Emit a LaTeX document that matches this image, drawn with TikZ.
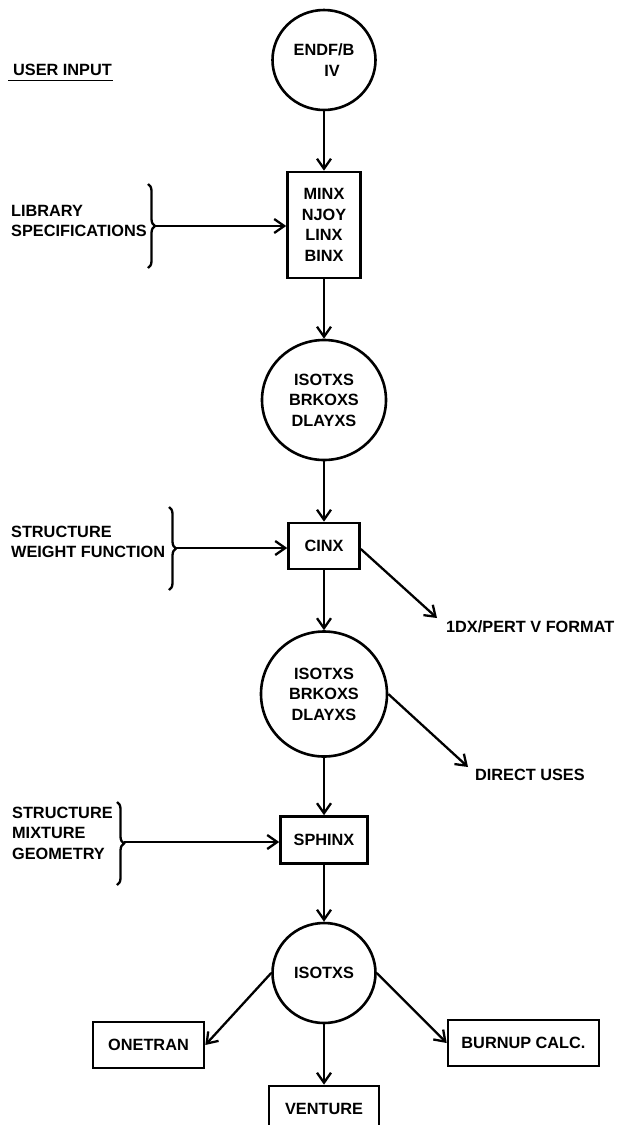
\documentclass[tikz,border=0pt]{standalone}
\usepackage{fontspec}
\setmainfont{Liberation Sans}
\usetikzlibrary{arrows.meta,shapes.geometric,decorations.pathreplacing}
\begin{document}
\begin{tikzpicture}[x=1pt,y=-1pt,line width=2.3pt,
  every node/.style={font=\bfseries\fontsize{16.3}{20.5}\selectfont,inner sep=0pt},
  box/.style={draw,rectangle,align=center,line width=2.6pt},
  disc/.style={draw,ellipse,align=center,line width=2.6pt},
  arr/.style={-{Straight Barb[length=10pt,width=14pt,line width=2.3pt]}},
  brc/.style={decorate,decoration={brace,amplitude=7pt}},
  lbl/.style={anchor=west,align=left}]
\useasboundingbox (0,0) rectangle (620,1125);
\clip (0,0) rectangle (620,1125);
% user input heading
\node[anchor=west] (ui) at (12,70) {USER INPUT};
\draw[line width=1.8pt] ([shift={(-4,3.5)}]ui.south west) -- ([shift={(0,3.5)}]ui.south east);
% main column
\node[disc,minimum width=103pt,minimum height=100pt] (endf) at (324,60) {ENDF/B\\\hspace*{16pt}IV};
\node[box,minimum width=73pt,minimum height=106pt] (minx) at (324,225) {MINX\\NJOY\\LINX\\BINX};
\node[disc,minimum width=124pt,minimum height=120pt] (iso1) at (324,400) {ISOTXS\\BRKOXS\\DLAYXS};
\node[box,minimum width=71pt,minimum height=46pt] (cinx) at (324,546) {CINX};
\node[disc,minimum width=126pt,minimum height=125pt] (iso2) at (324,694) {ISOTXS\\BRKOXS\\DLAYXS};
\node[box,minimum width=87pt,minimum height=47pt] (sphinx) at (324,840) {SPHINX};
\node[disc,minimum width=103pt,minimum height=100pt] (iso3) at (324,973) {ISOTXS};
\node[box,minimum width=111pt,minimum height=46pt] (onetran) at (148.5,1045) {ONETRAN};
\node[box,minimum width=151pt,minimum height=46pt] (burnup) at (523.5,1043) {BURNUP CALC.};
\node[box,minimum width=110pt,minimum height=46pt] (venture) at (324,1109) {VENTURE};
% side outputs
\node[anchor=west] (fmt) at (445,627) {1DX/PERT V FORMAT};
\node[anchor=west] (dir) at (474,775) {DIRECT USES};
% user input labels and braces
\node[lbl] (lib) at (10,221) {LIBRARY\\SPECIFICATIONS};
\node[lbl] (swf) at (10,542) {STRUCTURE\\WEIGHT FUNCTION};
\node[lbl] (smg) at (11,833) {STRUCTURE\\MIXTURE\\GEOMETRY};
\draw[brc] (148,184) -- (148,268);
\coordinate (b1) at (155,226);
\draw[brc] (169,507) -- (169,590);
\coordinate (b2) at (176,548);
\draw[brc] (117,802) -- (117,885);
\coordinate (b3) at (124,842);
% connectors
\draw[arr] (endf.south) -- (minx.north);
\draw[arr] (minx.south) -- (iso1.north);
\draw[arr] (iso1.south) -- (cinx.north);
\draw[arr] (cinx.south) -- (iso2.north);
\draw[arr] (iso2.south) -- (sphinx.north);
\draw[arr] (sphinx.south) -- (iso3.north);
\draw[arr] (iso3.south) -- (venture.north);
\draw[arr] (iso3.west) -- (onetran.east);
\draw[arr] (iso3.east) -- (burnup.west);
\draw[arr] ([yshift=-3pt]cinx.east) -- ([shift={(-8,-9)}]fmt.west);
\draw[arr] (iso2.east) -- ([shift={(-6,-8)}]dir.west);
\draw[arr] (b1) -- (b1 -| minx.west);
\draw[arr] (b2) -- (b2 -| cinx.west);
\draw[arr] (b3) -- (b3 -| sphinx.west);
\end{tikzpicture}
\end{document}
